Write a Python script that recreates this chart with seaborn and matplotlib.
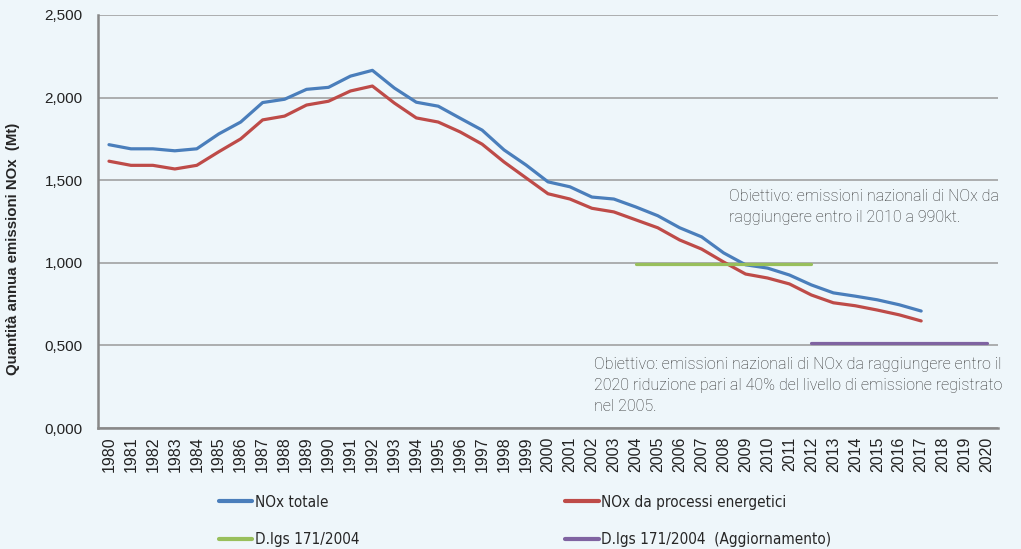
import numpy as np
import pandas as pd
import matplotlib
matplotlib.use("Agg")
import matplotlib.pyplot as plt
import matplotlib.ticker as mticker
from matplotlib.lines import Line2D
import seaborn as sns

# data (kt)
years = list(range(1980, 2021))
nox_totale = [1715, 1690, 1690, 1678, 1690, 1780, 1852, 1970, 1990, 2050, 2062, 2130, 2165,
              2058, 1972, 1948, 1875, 1803, 1683, 1592, 1490, 1460, 1398, 1386, 1338, 1285,
              1212, 1157, 1060, 988, 968, 926, 866, 818, 798, 776, 746, 708]
nox_energia = [1615, 1590, 1590, 1568, 1590, 1672, 1750, 1865, 1888, 1955, 1978, 2040, 2070,
               1967, 1877, 1852, 1792, 1718, 1610, 1514, 1418, 1386, 1330, 1308, 1260, 1212,
               1138, 1083, 1005, 932, 908, 872, 805, 758, 740, 714, 685, 648]
dlgs_years = list(range(2004, 2013))
dlgs_values = [990] * len(dlgs_years)
agg_years = list(range(2012, 2021))
agg_values = [514] * len(agg_years)

series_labels = ["NOx totale", "NOx da processi energetici",
                 "D.lgs 171/2004", "D.lgs 171/2004  (Aggiornamento)"]
colors = ["#4A7EBB", "#BE4B48", "#98BF5B", "#7F63A1"]
ytick_vals = [0, 500, 1000, 1500, 2000, 2500]
ytick_labels = ["0,000", "0,500", "1,000", "1,500", "2,000", "2,500"]

df = pd.concat([
    pd.DataFrame({"anno": years[:len(nox_totale)], "valore": nox_totale, "serie": series_labels[0]}),
    pd.DataFrame({"anno": years[:len(nox_energia)], "valore": nox_energia, "serie": series_labels[1]}),
    pd.DataFrame({"anno": dlgs_years, "valore": dlgs_values, "serie": series_labels[2]}),
    pd.DataFrame({"anno": agg_years, "valore": agg_values, "serie": series_labels[3]}),
])

bg = "#EEF6FA"
sns.set_style("white", {"axes.facecolor": bg, "figure.facecolor": bg})
plt.rcParams["font.family"] = ["Liberation Sans", "DejaVu Sans"]

fig = plt.figure(figsize=(10.21, 5.49), dpi=100)
ax = fig.add_axes([98 / 1021, 1 - 428 / 549, 900 / 1021, 413 / 549])

sns.lineplot(data=df, x="anno", y="valore", hue="serie", hue_order=series_labels,
             palette=colors, linewidth=2.3, ax=ax, legend=False)

ax.set_xlim(1979.5, 2020.5)
ax.set_ylim(0, 2500)
ax.set_yticks(ytick_vals)
ax.yaxis.set_major_formatter(mticker.FixedFormatter(ytick_labels))
ax.yaxis.grid(True, color="#9A9A9A", linewidth=1.1)
ax.set_axisbelow(True)

ax.set_xticks(years)
ax.set_xticklabels([str(y) for y in years], rotation=90)
ax.set_xticks(np.arange(1979.5, 2021, 1), minor=True)
ax.tick_params(axis="x", which="major", length=0, pad=6, labelsize=11.5, colors="#222222")
ax.tick_params(axis="x", which="minor", length=5, width=1, color="#888888")
ax.tick_params(axis="y", length=5, width=1, color="#888888", labelsize=11, labelcolor="#222222", pad=6)

for s in ["top", "right"]:
    ax.spines[s].set_visible(False)
for s in ["left", "bottom"]:
    ax.spines[s].set_color("#888888")
    ax.spines[s].set_linewidth(1.8)

ax.set_xlabel("")
ax.set_ylabel("Quantità annua emissioni NOx  (Mt)", fontsize=10.8, fontweight="bold")
ax.yaxis.set_label_coords(-0.087, 0.433)

note_font = dict(family=["Roboto", "DejaVu Sans"], fontsize=11.5, color="#2E2E2E",
                 fontweight="light", linespacing=1.5, va="top", ha="left")
ax.text(2008.25, 1448, "Obiettivo: emissioni nazionali di NOx da\nraggiungere entro il 2010 a 990kt.",
        **note_font)
ax.text(2002.1, 428, "Obiettivo: emissioni nazionali di NOx da raggiungere entro il\n"
        "2020 riduzione pari al 40% del livello di emissione registrato\nnel 2005.",
        **note_font)

# legend laid out row by row: matplotlib fills columns first
order = [0, 2, 1, 3]
handles = [Line2D([], [], color=colors[i], linewidth=3) for i in order]
labels = [series_labels[i] for i in order]
leg = fig.legend(handles, labels, ncol=2, loc="upper left",
                 bbox_to_anchor=(205 / 1021, 1 - 481 / 549), frameon=False,
                 handlelength=2.2, handletextpad=0.15, columnspacing=13.5, labelspacing=1.45,
                 prop=dict(family=["Liberation Sans Narrow", "DejaVu Sans"], size=11, stretch="condensed"))

fig.savefig("out.png", dpi=100, facecolor=bg)
